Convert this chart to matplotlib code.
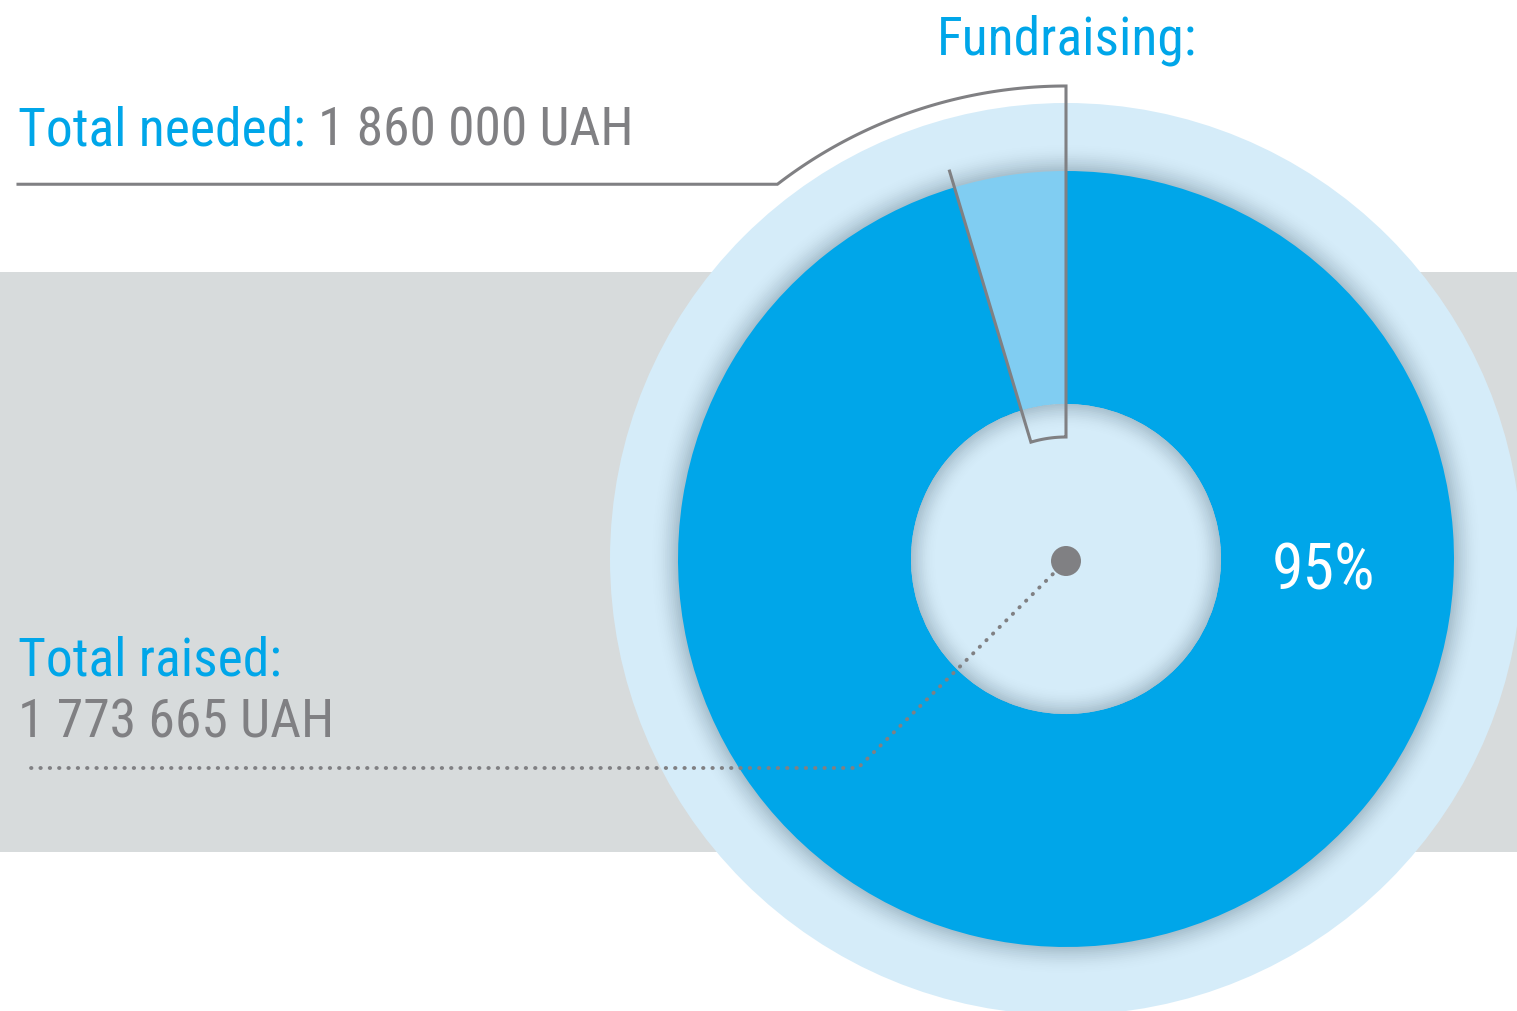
import numpy as np
import matplotlib
matplotlib.use("Agg")
import matplotlib.pyplot as plt
from matplotlib.patches import Wedge, Circle, Rectangle

# ---------------- data ----------------
total_needed = 1860000
total_raised = 1773665
slice_labels = ["Total raised", "Remaining"]
slice_values = [total_raised, total_needed - total_raised]
title_text = "Fundraising:"
needed_label = "Total needed: "
needed_value = "1 860 000 UAH"
raised_label = "Total raised:"
raised_value = "1 773 665 UAH"

# ---------------- style ----------------
W, H = 1517, 1011
BLUE = "#00a6e9"
LIGHT_WEDGE = "#80cdf2"
PALE = "#d5ecf9"
BAND = "#d7dbdc"
GRAY = "#808083"
plt.rcParams["font.family"] = ["Roboto Condensed", "DejaVu Sans"]

fig = plt.figure(figsize=(W / 100, H / 100), dpi=100)
ax = fig.add_axes([0, 0, 1, 1])


def Y(y_px):
    return H - y_px


CX, CY = 1066, Y(559)
R_OUT, R_IN, R_HALO = 388, 155, 456

ax.add_patch(Rectangle((0, Y(852)), W, 852 - 272, color=BAND, zorder=0, lw=0))
ax.add_patch(Circle((CX, CY), R_HALO, color=PALE, zorder=1, lw=0))
n = 14
for i in range(n):
    r = R_OUT + 26 * (i + 1) / n
    ax.add_patch(Circle((CX, CY), r, color="#5f7a8a", alpha=0.055 * (1 - i / n) ** 1.2,
                        zorder=2, lw=0))

wedges, _ = ax.pie(slice_values, colors=[BLUE, LIGHT_WEDGE], startangle=90,
                   counterclock=False, radius=R_OUT, center=(CX, CY),
                   wedgeprops=dict(width=R_OUT - R_IN, linewidth=0), frame=True)
for w in wedges:
    w.set_zorder(3)

ax.add_patch(Circle((CX, CY), R_IN, color=PALE, zorder=4, lw=0))
for i in range(n):
    rin = R_IN - 24 * (i + 1) / n
    ax.add_patch(Wedge((CX, CY), R_IN, 0, 360, width=R_IN - rin, color="#5f7a8a",
                       alpha=0.05 * (1 - i / n) ** 1.2, zorder=5, lw=0))

theta_end = 90 + 360 * slice_values[1] / total_needed
r_b_out, r_b_in, r_line = 473, 122, 405
a_out = np.radians(np.linspace(127.6, 90, 60))
a_in = np.radians(np.linspace(90, theta_end, 30))
te = np.radians(theta_end)
bx = [18, CX + r_b_out * np.cos(a_out[0])]
by = [CY + r_b_out * np.sin(a_out[0]), CY + r_b_out * np.sin(a_out[0])]
bx += list(CX + r_b_out * np.cos(a_out))
by += list(CY + r_b_out * np.sin(a_out))
bx += list(CX + r_b_in * np.cos(a_in))
by += list(CY + r_b_in * np.sin(a_in))
bx += [CX + r_line * np.cos(te)]
by += [CY + r_line * np.sin(te)]
ax.plot(bx, by, color=GRAY, lw=2.2, zorder=6, solid_joinstyle="miter")

ax.plot([CX, 858, 25], [Y(561), Y(768), Y(768)], color=GRAY, lw=2.8,
        linestyle=(0, (0.1, 2.3)), dash_capstyle="round", zorder=6)
ax.add_patch(Circle((CX, Y(561)), 15, color=GRAY, zorder=7, lw=0))

FS = 38.5
ax.text(937, Y(55), title_text, color=BLUE, fontsize=FS, ha="left", va="baseline", zorder=8)
t1 = ax.text(18, Y(145), needed_label, color=BLUE, fontsize=FS, ha="left",
             va="baseline", zorder=8)
fig.canvas.draw()
ax.annotate(needed_value, xy=(1, 0), xycoords=t1, xytext=(0, 0),
            textcoords="offset points", color=GRAY, fontsize=FS, ha="left",
            va="bottom", zorder=8)
ax.text(18, Y(675), raised_label, color=BLUE, fontsize=FS, ha="left", va="baseline", zorder=8)
ax.text(18, Y(738), raised_value, color=GRAY, fontsize=FS, ha="left", va="baseline", zorder=8)
pct = round(100 * total_raised / total_needed)
ax.text(1324, Y(590), f"{pct}%", color="white", fontsize=46, ha="center",
        va="baseline", zorder=8)

ax.set_xlim(0, W)
ax.set_ylim(0, H)
ax.set_aspect("equal")
ax.axis("off")
fig.savefig("out.png", dpi=100, facecolor="white")
